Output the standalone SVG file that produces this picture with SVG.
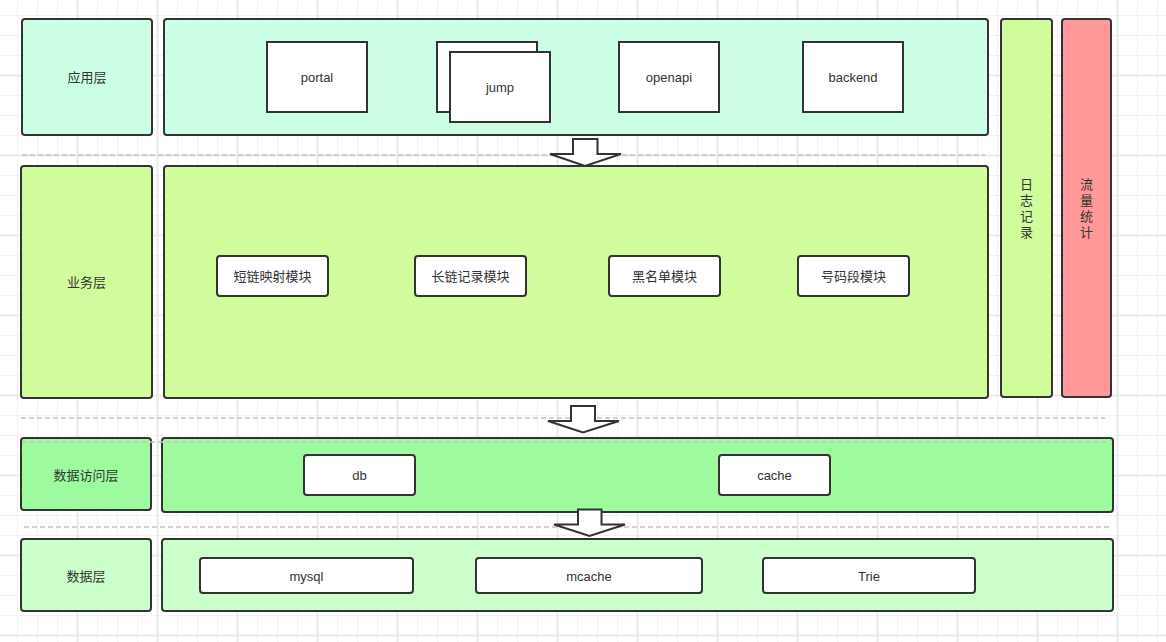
<svg xmlns="http://www.w3.org/2000/svg" width="1166" height="642" viewBox="0 0 1166 642">
<defs>
<pattern id="grid" x="17" y="15" width="80" height="80" patternUnits="userSpaceOnUse">
<path d="M0.5 0V80M20.5 0V80M40.5 0V80M0 0.5H80M0 20.5H80M0 40.5H80" stroke="#f1f1f1" stroke-width="1" fill="none"/>
<path d="M60.5 0V80M0 60.5H80" stroke="#e9e9e9" stroke-width="2" fill="none"/>
</pattern>
<style>
.lbl{stroke:#333;stroke-width:2;}
.app{fill:#ccffe6;}
.biz{fill:#d1fc9c;}
.dao{fill:#9dfb9d;}
.data{fill:#ccffcc;}
.sq{fill:#fff;stroke:#333;stroke-width:2;}
.rb{fill:#fff;stroke:#333;stroke-width:2;}
.t{font-family:"Liberation Sans","Noto Sans CJK SC",sans-serif;font-size:13px;fill:#333;text-anchor:middle;dominant-baseline:central;}
.dash{stroke:#c4c4c4;stroke-width:1.5;stroke-dasharray:5 3;fill:none;}
.arr{fill:#fff;stroke:#333;stroke-width:2;stroke-linejoin:miter;}
</style>
</defs>
<rect width="1166" height="642" fill="#fff"/>
<rect width="1166" height="642" fill="url(#grid)"/>

<g id="app-layer-label">
<rect class="lbl app" x="22" y="19" width="130" height="116" rx="3"/>
<text class="t" x="87" y="77">应用层</text>
</g>
<g id="app-layer">
<rect class="lbl app" x="164" y="19" width="824" height="116" rx="3"/>
</g>
<g id="portal">
<rect class="sq" x="267" y="42" width="100" height="70"/>
<text class="t" x="317" y="77">portal</text>
</g>
<g id="jump">
<rect class="sq" x="437" y="42" width="100" height="70"/>
<rect class="sq" x="450" y="52" width="100" height="70"/>
<text class="t" x="500" y="87">jump</text>
</g>
<g id="openapi">
<rect class="sq" x="619" y="42" width="100" height="70"/>
<text class="t" x="669" y="77">openapi</text>
</g>
<g id="backend">
<rect class="sq" x="803" y="42" width="100" height="70"/>
<text class="t" x="853" y="77">backend</text>
</g>

<g id="log">
<rect class="lbl biz" x="1001" y="19" width="51" height="378" rx="3"/>
<text class="t" x="1026.5" y="184">日</text>
<text class="t" x="1026.5" y="200">志</text>
<text class="t" x="1026.5" y="216">记</text>
<text class="t" x="1026.5" y="232">录</text>
</g>
<g id="traffic">
<rect class="lbl" fill="#ff9999" x="1062" y="19" width="49" height="378" rx="3"/>
<text class="t" x="1086.5" y="184">流</text>
<text class="t" x="1086.5" y="200">量</text>
<text class="t" x="1086.5" y="216">统</text>
<text class="t" x="1086.5" y="232">计</text>
</g>

<g id="biz-layer-label">
<rect class="lbl biz" x="21" y="166" width="131" height="232" rx="3"/>
<text class="t" x="86.5" y="282">业务层</text>
</g>
<g id="biz-layer">
<rect class="lbl biz" x="164" y="166" width="824" height="232" rx="3"/>
</g>
<g id="short-link">
<rect class="rb" x="217" y="256" width="111" height="40" rx="3"/>
<text class="t" x="272.5" y="276">短链映射模块</text>
</g>
<g id="long-link">
<rect class="rb" x="415" y="256" width="111" height="40" rx="3"/>
<text class="t" x="470.5" y="276">长链记录模块</text>
</g>
<g id="blacklist">
<rect class="rb" x="609" y="256" width="111" height="40" rx="3"/>
<text class="t" x="664.5" y="276">黑名单模块</text>
</g>
<g id="number-segment">
<rect class="rb" x="798" y="256" width="111" height="40" rx="3"/>
<text class="t" x="853.5" y="276">号码段模块</text>
</g>

<g id="dao-layer-label">
<rect class="lbl dao" x="21" y="438" width="130" height="72" rx="3"/>
<text class="t" x="86" y="475">数据访问层</text>
</g>
<g id="dao-layer">
<rect class="lbl dao" x="162" y="438" width="951" height="74" rx="3"/>
</g>
<g id="db">
<rect class="rb" x="304" y="455" width="111" height="40" rx="3"/>
<text class="t" x="359.5" y="475">db</text>
</g>
<g id="cache">
<rect class="rb" x="719" y="455" width="111" height="40" rx="3"/>
<text class="t" x="774.5" y="475">cache</text>
</g>

<g id="data-layer-label">
<rect class="lbl data" x="21" y="539" width="130" height="72" rx="3"/>
<text class="t" x="86" y="576">数据层</text>
</g>
<g id="data-layer">
<rect class="lbl data" x="162" y="539" width="951" height="72" rx="3"/>
</g>
<g id="mysql">
<rect class="rb" x="200" y="558" width="213" height="35" rx="3"/>
<text class="t" x="306.5" y="576">mysql</text>
</g>
<g id="mcache">
<rect class="rb" x="476" y="558" width="226" height="35" rx="3"/>
<text class="t" x="589" y="576">mcache</text>
</g>
<g id="trie">
<rect class="rb" x="763" y="558" width="212" height="35" rx="3"/>
<text class="t" x="869" y="576">Trie</text>
</g>

<g id="connectors">
<line class="dash" x1="22" y1="155" x2="985" y2="155"/>
<line class="dash" x1="21" y1="418" x2="1105" y2="418"/>
<line class="dash" x1="22" y1="442" x2="1110" y2="442"/>
<line class="dash" x1="24" y1="527" x2="1110" y2="527"/>
<path class="arr" d="M573 139H597.5V154H621L585 166L550 154H573Z"/>
<path class="arr" d="M571 406H595V421H619L583 432.5L548 421H571Z"/>
<path class="arr" d="M578 509.5H601.5V524.5H625L589.5 536L554 524.5H578Z"/>
</g>
</svg>
